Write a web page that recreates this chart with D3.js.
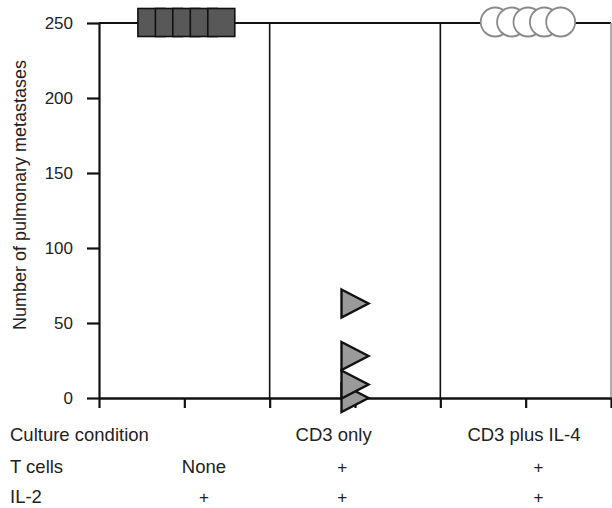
<!DOCTYPE html>
<html>
<head>
<meta charset="utf-8">
<script src="https://cdn.jsdelivr.net/npm/d3@7"></script>
<style>
  html, body { margin: 0; padding: 0; background: #fff; }
  svg { display: block; font-family: "Liberation Sans", Arial, Helvetica, sans-serif; }
</style>
</head>
<body>
<div id="chart"></div>
<script>
// Data
const yTicks = [0, 50, 100, 150, 200, 250];
const xTicks = [0, 1, 2, 3, 4, 5, 6];
const dividers = [2, 4, 6];

// "None" group: all mice at the 250 ceiling (x in axis units, jittered)
const noneX = [0.614, 0.819, 1.023, 1.228, 1.433];
const noneY = [250, 250, 250, 250, 250];

// "CD3 only" group
const cd3X = [3, 3, 3, 3];
const cd3Y = [0, 9, 28, 63];

// "CD3 plus IL-4" group
const il4X = [4.643, 4.835, 5.027, 5.219, 5.41];
const il4Y = [250, 250, 250, 250, 250];

// Table under the axis
const rowLabels = ["Culture condition", "T cells", "IL-2"];
const conditionLabels = ["", "CD3 only", "CD3 plus IL-4"];
const conditionX = [1, 2.75, 4.98];
const tcellLabels = ["None", "+", "+"];
const il2Labels = ["+", "+", "+"];
const cellX = [1.23, 2.85, 5.15];

window.addEventListener("DOMContentLoaded", function() {
    const width = 612;
    const height = 508;

    const svg = d3.select('#chart')
        .append('svg')
        .attr('width', width)
        .attr('height', height);

    const x = d3.scaleLinear().domain([0, 6]).range([99, 611]);
    const y = d3.scaleLinear().domain([0, 250]).range([398, 23]);

    // Top line at 250
    svg.append('line')
        .attr('x1', x(0)).attr('x2', x(6))
        .attr('y1', y(250)).attr('y2', y(250))
        .attr('stroke', '#111').attr('stroke-width', 2.2);

    // Panel dividers
    svg.selectAll('line.divider')
        .data(dividers)
        .enter()
        .append('line')
        .attr('class', 'divider')
        .attr('x1', d => x(d)).attr('x2', d => x(d))
        .attr('y1', y(250)).attr('y2', y(0))
        .attr('stroke', d => d === 6 ? '#999' : '#111')
        .attr('stroke-width', 1.6);

    // Y axis
    const yAxis = svg.append('g')
        .attr('transform', `translate(${x(0)},0)`)
        .call(d3.axisLeft(y).tickValues(yTicks).tickSize(12).tickSizeOuter(0).tickPadding(14));
    yAxis.select('.domain').attr('stroke', '#111').attr('stroke-width', 2.2);
    yAxis.selectAll('.tick line').attr('stroke', '#111').attr('stroke-width', 2.2);
    yAxis.selectAll('.tick text')
        .attr('fill', '#222')
        .style('font-size', '17px')
        .style('font-family', '"Liberation Sans", Arial, sans-serif');

    // X axis
    const xAxis = svg.append('g')
        .attr('transform', `translate(0,${y(0)})`)
        .call(d3.axisBottom(x).tickValues(xTicks).tickSize(10).tickSizeOuter(0).tickFormat(''));
    xAxis.select('.domain').attr('stroke', '#111').attr('stroke-width', 2.4);
    xAxis.selectAll('.tick line').attr('stroke', '#111').attr('stroke-width', 2.2);

    // Y axis title
    svg.append('text')
        .attr('transform', `translate(20,195) rotate(-90)`)
        .attr('text-anchor', 'middle')
        .attr('dominant-baseline', 'central')
        .attr('fill', '#222')
        .style('font-size', '18px')
        .text('Number of pulmonary metastases');

    // Squares (None)
    const sq = 27;
    svg.selectAll('rect.none')
        .data(noneX.map((d, i) => ({ x: d, y: noneY[i] })))
        .enter()
        .append('rect')
        .attr('class', 'none')
        .attr('x', d => x(d.x) - sq / 2)
        .attr('y', d => y(d.y) - 14.5)
        .attr('width', sq)
        .attr('height', 28)
        .attr('fill', '#585858')
        .attr('stroke', '#111')
        .attr('stroke-width', 1.6);

    // Triangles pointing right (CD3 only)
    const tw = 27, th = 28;
    svg.selectAll('path.cd3')
        .data(cd3X.map((d, i) => ({ x: d, y: cd3Y[i] })))
        .enter()
        .append('path')
        .attr('class', 'cd3')
        .attr('d', d => {
            const cx = x(d.x), cy = y(d.y);
            return `M${cx - tw / 2},${cy - th / 2}L${cx + tw / 2},${cy}L${cx - tw / 2},${cy + th / 2}Z`;
        })
        .attr('fill', '#9a9a9a')
        .attr('stroke', '#111')
        .attr('stroke-width', 2.4)
        .attr('stroke-linejoin', 'miter');

    // Circles (CD3 plus IL-4)
    svg.selectAll('circle.il4')
        .data(il4X.map((d, i) => ({ x: d, y: il4Y[i] })))
        .enter()
        .append('circle')
        .attr('class', 'il4')
        .attr('cx', d => x(d.x))
        .attr('cy', d => y(d.y) - 1)
        .attr('r', 14.5)
        .attr('fill', '#fff')
        .attr('stroke', '#8a8a8a')
        .attr('stroke-width', 1.8);

    // Table below the axis
    const rowY = [441, 473, 503];
    svg.selectAll('text.row')
        .data(rowLabels)
        .enter()
        .append('text')
        .attr('class', 'row')
        .attr('x', 10)
        .attr('y', (d, i) => rowY[i])
        .attr('fill', '#222')
        .style('font-size', '18.5px')
        .text(d => d);

    svg.selectAll('text.cond')
        .data(conditionLabels)
        .enter()
        .append('text')
        .attr('class', 'cond')
        .attr('x', (d, i) => x(conditionX[i]))
        .attr('y', rowY[0])
        .attr('text-anchor', 'middle')
        .attr('fill', '#222')
        .style('font-size', '18.5px')
        .text(d => d);

    [tcellLabels, il2Labels].forEach((labels, r) => {
        svg.selectAll(`text.cell${r}`)
            .data(labels)
            .enter()
            .append('text')
            .attr('class', `cell${r}`)
            .attr('x', (d, i) => x(cellX[i]))
            .attr('y', rowY[r + 1])
            .attr('text-anchor', 'middle')
            .attr('fill', '#222')
            .style('font-size', d => d === '+' ? '17px' : '18.5px')
            .text(d => d);
    });
});
</script>
</body>
</html>
